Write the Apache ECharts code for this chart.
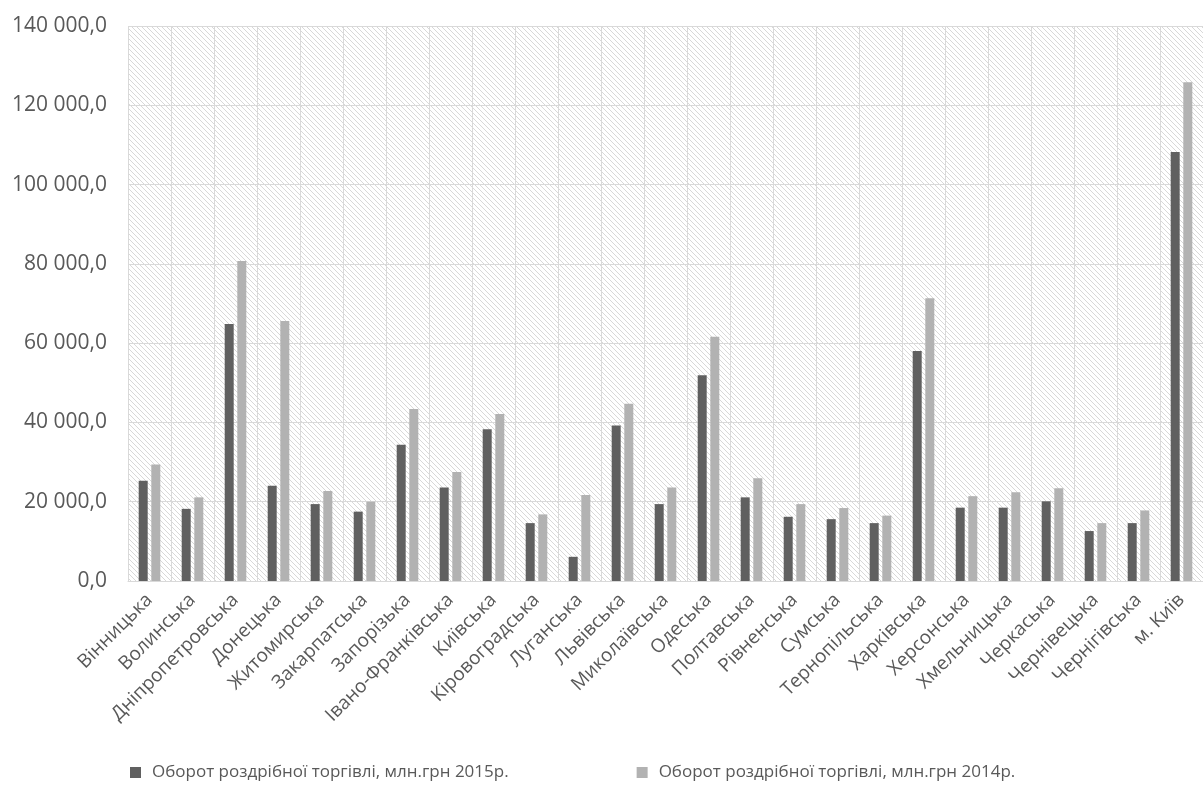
<!DOCTYPE html>
<html>
<head>
<meta charset="utf-8">
<title>Оборот роздрібної торгівлі</title>
<script src="https://cdn.jsdelivr.net/npm/echarts@6/dist/echarts.min.js"></script>
<style>
  html, body { margin: 0; padding: 0; background: #ffffff; }
  #chart { width: 1203px; height: 800px; }
</style>
</head>
<body>
<div id="chart"></div>
<script>
// Regions of Ukraine
const regions = [
  'Вінницька', 'Волинська', 'Дніпропетровська', 'Донецька', 'Житомирська',
  'Закарпатська', 'Запорізька', 'Івано-Франківська', 'Київська', 'Кіровоградська',
  'Луганська', 'Львівська', 'Миколаївська', 'Одеська', 'Полтавська',
  'Рівненська', 'Сумська', 'Тернопільська', 'Харківська', 'Херсонська',
  'Хмельницька', 'Черкаська', 'Чернівецька', 'Чернігівська', 'м. Київ'
];

// Retail turnover, mln UAH
const turnover2015 = [
  25300, 18200, 64800, 24000, 19400,
  17500, 34400, 23600, 38300, 14600,
  6100, 39200, 19400, 51900, 21100,
  16200, 15600, 14600, 58000, 18500,
  18500, 20100, 12600, 14600, 108200
];
const turnover2014 = [
  29400, 21100, 80700, 65600, 22700,
  20000, 43400, 27500, 42100, 16800,
  21700, 44700, 23600, 61600, 25900,
  19400, 18400, 16500, 71300, 21400,
  22400, 23400, 14600, 17800, 125800
];

const seriesNames = [
  'Оборот роздрібної торгівлі, млн.грн 2015р.',
  'Оборот роздрібної торгівлі, млн.грн 2014р.'
];

// Value axis range
const yMin = 0;
const yMax = 140000;
const yStep = 20000;

const FONT = '"Open Sans", "Noto Sans", sans-serif';
const TEXT = '#595959';
const GRID_LINE = '#d9d9d9';

// Diagonal hatch tile for the plot background
function hatchTile() {
  const s = 5;
  const c = document.createElement('canvas');
  c.width = s; c.height = s;
  const ctx = c.getContext('2d');
  ctx.fillStyle = '#ffffff';
  ctx.fillRect(0, 0, s, s);
  ctx.strokeStyle = '#d8d8d8';
  ctx.lineWidth = 1;
  for (const k of [-s, 0, s]) {
    ctx.beginPath();
    ctx.moveTo(k, 0);
    ctx.lineTo(k + s, s);
    ctx.stroke();
  }
  return c;
}

function formatTick(v) {
  const s = String(Math.round(v)).replace(/\B(?=(\d{3})+(?!\d))/g, ' ');
  return s + ',0';
}

const chart = echarts.init(document.getElementById('chart'), null, { renderer: 'canvas' });

chart.setOption({
  backgroundColor: '#ffffff',
  animation: false,
  textStyle: { fontFamily: FONT },
  grid: {
    left: 128,
    top: 26,
    width: 1083,
    height: 555,
    show: true,
    borderWidth: 0,
    backgroundColor: { image: hatchTile(), repeat: 'repeat' }
  },
  legend: {
    left: 125,
    top: 759,
    icon: 'rect',
    itemWidth: 11,
    itemHeight: 11,
    itemGap: 128,
    data: seriesNames,
    textStyle: { color: TEXT, fontSize: 17, fontFamily: FONT, padding: [0, 0, 0, 6] }
  },
  xAxis: {
    type: 'category',
    data: regions,
    boundaryGap: true,
    axisTick: { show: false },
    axisLine: { show: true, lineStyle: { color: GRID_LINE, width: 1 } },
    splitLine: { show: true, interval: 0, lineStyle: { color: GRID_LINE, width: 1 } },
    axisLabel: {
      interval: 0,
      rotate: 45,
      margin: 16,
      color: TEXT,
      fontSize: 19,
      fontFamily: FONT
    }
  },
  yAxis: {
    type: 'value',
    min: yMin,
    max: yMax,
    interval: yStep,
    axisLine: { show: false },
    axisTick: { show: false },
    splitLine: { show: true, lineStyle: { color: GRID_LINE, width: 1 } },
    axisLabel: {
      margin: 21,
      color: TEXT,
      fontSize: 21,
      fontFamily: FONT,
      formatter: formatTick
    }
  },
  series: [
    {
      name: seriesNames[0],
      type: 'bar',
      data: turnover2015,
      barWidth: 9,
      barGap: '40%',
      itemStyle: { color: '#606060' }
    },
    {
      name: seriesNames[1],
      type: 'bar',
      data: turnover2014,
      barWidth: 9,
      barGap: '40%',
      itemStyle: { color: '#b2b2b2' }
    }
  ]
});
</script>
</body>
</html>
